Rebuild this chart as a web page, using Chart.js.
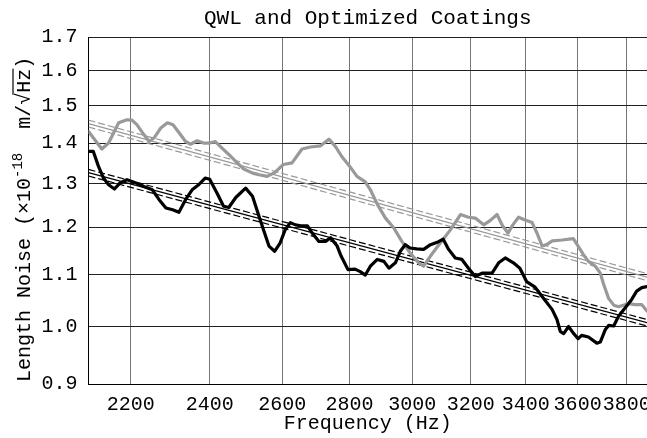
<!DOCTYPE html>
<html lang="en">
<head>
<meta charset="utf-8">
<title>QWL and Optimized Coatings</title>
<script src="https://cdn.jsdelivr.net/npm/chart.js@4"></script>
<style>
    html, body { margin: 0; padding: 0; background: #fff; }
    canvas { display: block; }
</style>
</head>
<body>
<canvas id="grafico" width="647" height="438"></canvas>
<script>
// =============================
// DADOS
// =============================

const frequenciaQWL = [
    2100, 2131, 2147, 2171, 2191, 2203, 2215, 2232, 2245, 2257, 2274, 2291, 2305, 2321,
    2337, 2350, 2367, 2384, 2400, 2415, 2433, 2451, 2474, 2492, 2516, 2534, 2557, 2578,
    2603, 2628, 2657, 2682, 2712, 2737, 2757, 2776, 2800, 2823, 2849, 2865, 2887, 2913,
    2940, 2966, 2993, 3021, 3038, 3061, 3095, 3129, 3164, 3192, 3216, 3246, 3270, 3294,
    3314, 3334, 3352, 3373, 3397, 3424, 3443, 3462, 3482, 3501, 3539, 3583, 3602, 3623,
    3643, 3671, 3691, 3705, 3725, 3746, 3766, 3786, 3807, 3835, 3864, 3886
];
const ruidoQWL = [
    1.430, 1.385, 1.400, 1.453, 1.461, 1.460, 1.448, 1.422, 1.404, 1.413, 1.439, 1.453, 1.448, 1.426,
    1.404, 1.397, 1.406, 1.400, 1.400, 1.404, 1.387, 1.371, 1.350, 1.335, 1.325, 1.321, 1.317, 1.326,
    1.346, 1.350, 1.385, 1.390, 1.393, 1.410, 1.391, 1.366, 1.342, 1.317, 1.304, 1.285, 1.251, 1.220,
    1.198, 1.169, 1.145, 1.124, 1.117, 1.138, 1.166, 1.194, 1.228, 1.222, 1.220, 1.205, 1.215, 1.228,
    1.203, 1.187, 1.205, 1.222, 1.216, 1.210, 1.186, 1.159, 1.163, 1.170, 1.172, 1.175, 1.159, 1.141,
    1.127, 1.117, 1.103, 1.080, 1.053, 1.040, 1.037, 1.040, 1.043, 1.041, 1.041, 1.029
];

const frequenciaOtimizado = [
    2100, 2111, 2123, 2135, 2147, 2161, 2175, 2191, 2211, 2232, 2253, 2270, 2287, 2304,
    2320, 2337, 2354, 2371, 2388, 2400, 2419, 2437, 2451, 2470, 2497, 2516, 2534, 2548,
    2562, 2578, 2594, 2608, 2623, 2638, 2653, 2673, 2687, 2707, 2727, 2742, 2762, 2774,
    2795, 2817, 2833, 2849, 2865, 2887, 2908, 2924, 2945, 2961, 2977, 2993, 3015, 3038,
    3061, 3084, 3104, 3123, 3146, 3169, 3192, 3216, 3240, 3276, 3300, 3324, 3354, 3378,
    3403, 3435, 3461, 3500, 3519, 3532, 3545, 3564, 3583, 3602, 3616, 3643, 3677, 3691,
    3711, 3725, 3746, 3766, 3794, 3821, 3842, 3864, 3886
];
const ruidoOtimizado = [
    1.379, 1.379, 1.342, 1.313, 1.297, 1.287, 1.302, 1.309, 1.302, 1.293, 1.285, 1.262, 1.243, 1.239,
    1.233, 1.262, 1.285, 1.297, 1.313, 1.310, 1.278, 1.247, 1.244, 1.267, 1.289, 1.270, 1.224, 1.191,
    1.159, 1.148, 1.166, 1.194, 1.210, 1.205, 1.203, 1.203, 1.187, 1.169, 1.169, 1.177, 1.159, 1.138,
    1.110, 1.111, 1.106, 1.099, 1.117, 1.131, 1.127, 1.113, 1.124, 1.148, 1.162, 1.155, 1.153, 1.152,
    1.162, 1.167, 1.174, 1.152, 1.134, 1.131, 1.113, 1.096, 1.103, 1.103, 1.124, 1.134, 1.124, 1.113,
    1.086, 1.075, 1.057, 1.032, 1.013, 0.991, 0.987, 1.000, 0.988, 0.978, 0.984, 0.981, 0.970, 0.972,
    0.994, 1.002, 1.001, 1.019, 1.035, 1.051, 1.067, 1.074, 1.076
];

// ajustes (lei de potência: reta no gráfico log-log) e suas bandas
const frequenciaAjuste = [2100, 3886];
const ajusteQWL = [1.451, 1.095];
const ajusteQWLSup = [1.460, 1.102];
const ajusteQWLInf = [1.442, 1.088];
const ajusteOtimizado = [1.326, 1.007];
const ajusteOtimizadoSup = [1.334, 1.013];
const ajusteOtimizadoInf = [1.318, 1.001];

const ticksFrequencia = [2200, 2400, 2600, 2800, 3000, 3200, 3400, 3600, 3800];
const ticksRuido = [0.9, 1.0, 1.1, 1.2, 1.3, 1.4, 1.5, 1.6, 1.7];


// =============================
// FUNÇÕES AUXILIARES
// =============================

const FONTE = '"Liberation Mono", "DejaVu Sans Mono", monospace';

function montarPontos(xs, ys) {
    return xs.map((x, i) => ({ x: x, y: ys[i] }));
}

function serieGrossa(xs, ys, cor) {
    return {
        data: montarPontos(xs, ys),
        showLine: true,
        borderColor: cor,
        borderWidth: 3.2,
        borderJoinStyle: 'round',
        borderCapStyle: 'round',
        pointRadius: 0,
        order: 1
    };
}

function serieAjuste(ys, cor, tracejado) {
    return {
        data: montarPontos(frequenciaAjuste, ys),
        showLine: true,
        borderColor: cor,
        borderWidth: 1.2,
        borderDash: tracejado ? [7, 3] : [],
        pointRadius: 0,
        order: 2
    };
}


// =============================
// TÍTULOS DOS EIXOS
// =============================

const titulosEixos = {
    id: 'titulosEixos',
    afterDraw(chart) {
        const { ctx, chartArea } = chart;
        ctx.save();
        ctx.fillStyle = '#000';
        ctx.strokeStyle = '#000';

        // eixo x
        ctx.font = '20px ' + FONTE;
        ctx.textAlign = 'center';
        ctx.textBaseline = 'alphabetic';
        ctx.fillText('Frequency (Hz)', (chartArea.left + chartArea.right) / 2, 429);

        // eixo y (girado)
        ctx.translate(30, 382);
        ctx.rotate(-Math.PI / 2);
        ctx.textAlign = 'left';

        const partes = [
            { texto: 'Length Noise (\u00d710', tamanho: 20, desloc: 0 },
            { texto: '-18', tamanho: 14, desloc: -8 },
            { texto: '  m/\u221a', tamanho: 20, desloc: 0 },
            { texto: 'Hz', tamanho: 20, desloc: 0, barra: true },
            { texto: ')', tamanho: 20, desloc: 0 }
        ];

        let x = 0;
        partes.forEach(parte => {
            ctx.font = parte.tamanho + 'px ' + FONTE;
            const largura = ctx.measureText(parte.texto).width;
            ctx.fillText(parte.texto, x, parte.desloc);
            if (parte.barra) {
                ctx.lineWidth = 1.2;
                ctx.beginPath();
                ctx.moveTo(x - 2, -17);
                ctx.lineTo(x + largura, -17);
                ctx.stroke();
            }
            x += largura;
        });

        ctx.restore();
    }
};


// =============================
// GRÁFICO
// =============================

function criarGrafico() {
    const ctx = document.getElementById('grafico');

    new Chart(ctx, {
        type: 'scatter',
        data: {
            datasets: [
                serieGrossa(frequenciaOtimizado, ruidoOtimizado, '#000000'),
                serieGrossa(frequenciaQWL, ruidoQWL, '#999999'),
                serieAjuste(ajusteOtimizado, '#000000', false),
                serieAjuste(ajusteOtimizadoSup, '#000000', true),
                serieAjuste(ajusteOtimizadoInf, '#000000', true),
                serieAjuste(ajusteQWL, '#999999', false),
                serieAjuste(ajusteQWLSup, '#999999', true),
                serieAjuste(ajusteQWLInf, '#999999', true)
            ]
        },
        options: {
            responsive: false,
            animation: false,
            devicePixelRatio: 1,
            layout: {
                padding: 0,
                autoPadding: false
            },
            plugins: {
                legend: { display: false },
                tooltip: { enabled: false },
                title: {
                    display: true,
                    text: 'QWL and Optimized Coatings',
                    fullSize: false,
                    color: '#000',
                    font: { family: FONTE, size: 21, weight: 'normal' },
                    padding: { top: 6, bottom: 6 }
                }
            },
            scales: {
                x: {
                    type: 'logarithmic',
                    min: 2100,
                    max: 3886,
                    afterBuildTicks: scale => {
                        scale.ticks = ticksFrequencia.map(v => ({ value: v }));
                    },
                    afterFit: scale => {
                        scale.height = 54;
                        scale.paddingLeft = 0;
                        scale.paddingRight = 0;
                    },
                    ticks: {
                        autoSkip: false,
                        maxRotation: 0,
                        padding: 9,
                        color: '#000',
                        font: { family: FONTE, size: 20 },
                        callback: valor => String(valor)
                    },
                    grid: {
                        color: '#777777',
                        lineWidth: 1,
                        drawTicks: false
                    },
                    border: { display: true, color: '#000', width: 1 }
                },
                y: {
                    type: 'logarithmic',
                    min: 0.9,
                    max: 1.7,
                    afterBuildTicks: scale => {
                        scale.ticks = ticksRuido.map(v => ({ value: v }));
                    },
                    afterFit: scale => {
                        scale.width = 88.5;
                        scale.paddingTop = 0;
                        scale.paddingBottom = 0;
                    },
                    ticks: {
                        padding: 11,
                        color: '#000',
                        font: { family: FONTE, size: 20 },
                        callback: valor => Number(valor).toFixed(1)
                    },
                    grid: {
                        color: '#222222',
                        lineWidth: 1,
                        drawTicks: false
                    },
                    border: { display: true, color: '#000', width: 1 }
                }
            }
        },
        plugins: [titulosEixos]
    });
}

document.addEventListener('DOMContentLoaded', () => {
    criarGrafico();
});
</script>
</body>
</html>
